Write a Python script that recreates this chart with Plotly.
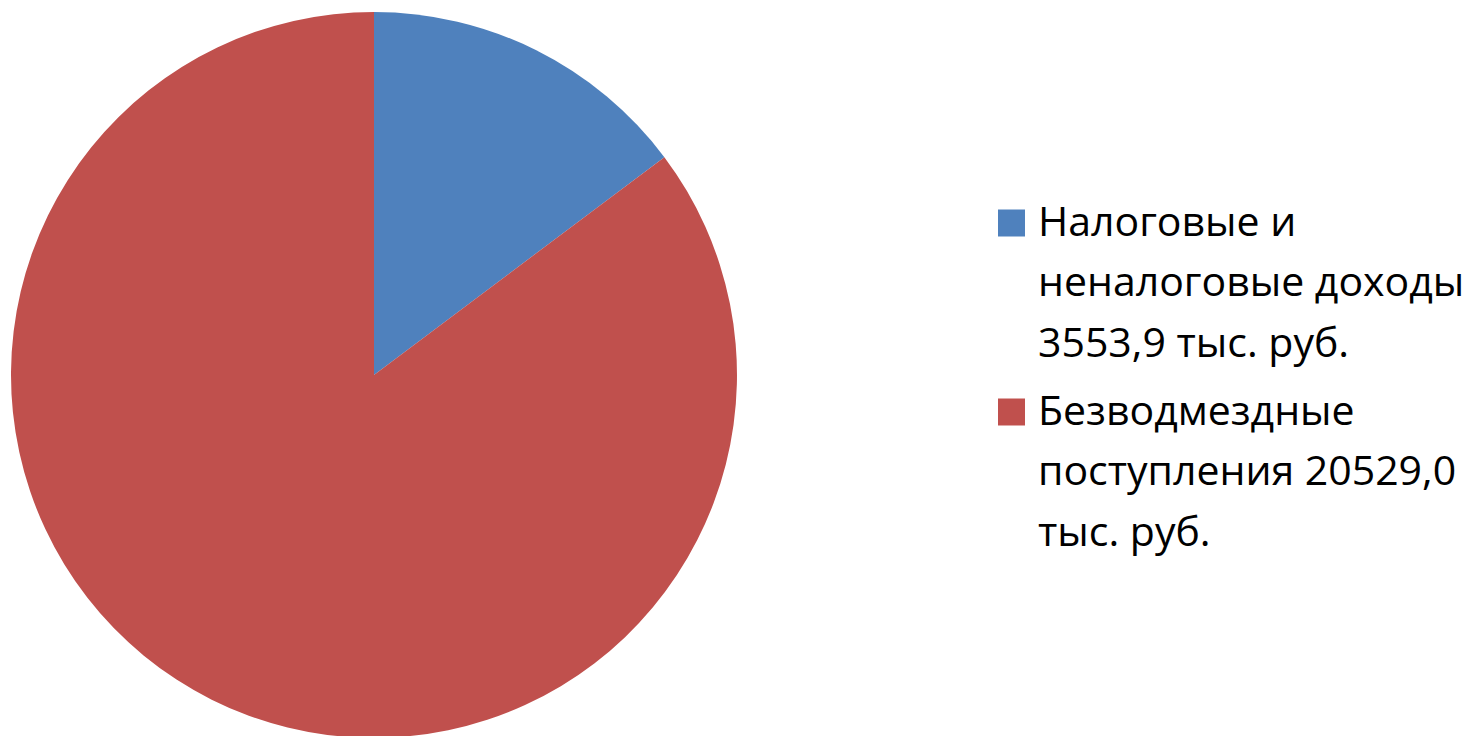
import plotly.graph_objects as go

labels = ["Налоговые и неналоговые доходы 3553,9 тыс. руб.",
          "Безводмездные поступления 20529,0 тыс. руб."]
values = [3553.9, 20529.0]
colors = ["#4F81BD", "#C0504D"]
legend_lines = [["Налоговые и", "неналоговые доходы", "3553,9 тыс. руб."],
                ["Безводмездные", "поступления 20529,0", "тыс. руб."]]

W, H = 1474, 736
OFF = 8  # page body margin offset
fig = go.Figure(go.Pie(
    labels=labels, values=values, sort=False, direction="clockwise", rotation=0,
    marker=dict(colors=colors, line=dict(width=0)),
    textinfo="none", hoverinfo="label+value+percent",
    domain=dict(x=[0.002, 0.4946], y=[0.0082, 0.9946]),
    showlegend=False,
))

font = dict(family="Open Sans", size=41, color="#000000")
block_top = [223, 412]  # cap-middle of first line of each entry (page px)
line_gap = 60.5
sq = 27
for i, lines in enumerate(legend_lines):
    y0 = block_top[i] - OFF
    fig.add_shape(type="rect", xref="paper", yref="paper",
                  x0=(998 - OFF) / W, x1=(998 - OFF + sq) / W,
                  y0=1 - (y0 - 13.5) / H, y1=1 - (y0 + 13.5) / H,
                  fillcolor=colors[i], line=dict(width=0))
    for j, t in enumerate(lines):
        fig.add_annotation(text=t, xref="paper", yref="paper",
                           x=(1036 - OFF) / W, y=1 - (y0 + j * line_gap - 3.5) / H,
                           xanchor="left", yanchor="middle", showarrow=False,
                           font=font)

fig.update_layout(width=W, height=H, margin=dict(l=0, r=0, t=0, b=0),
                  paper_bgcolor="white", plot_bgcolor="white")
fig.write_html("out.html")
